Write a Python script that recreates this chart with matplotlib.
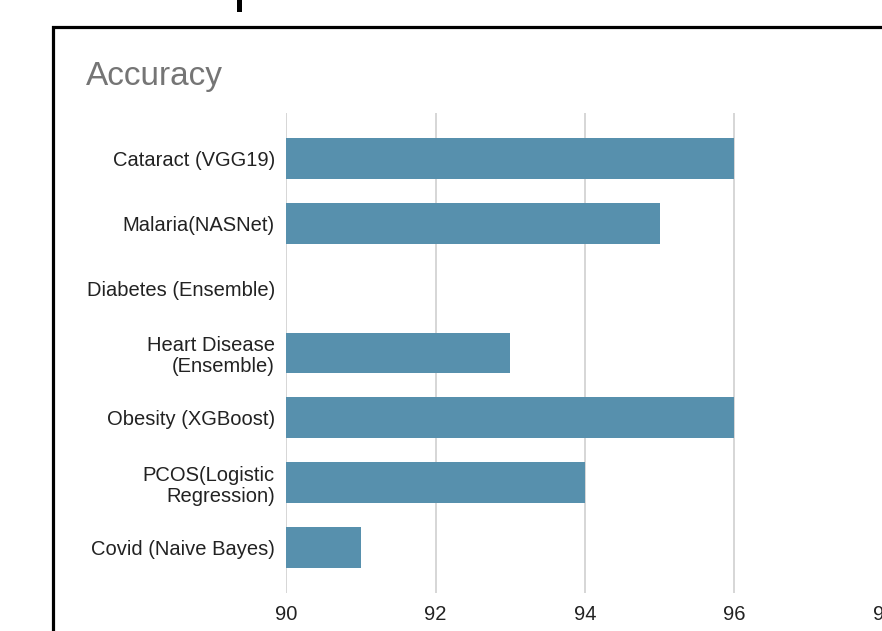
import matplotlib.pyplot as plt
from matplotlib.patches import Rectangle

models = [
    "Cataract (VGG19)",
    "Malaria(NASNet)",
    "Diabetes (Ensemble)",
    "Heart Disease\n(Ensemble)",
    "Obesity (XGBoost)",
    "PCOS(Logistic\nRegression)",
    "Covid (Naive Bayes)",
]
accuracy = [96, 95, 88, 93, 96, 94, 91]
ticks = [90, 92, 94, 96, 98]

plt.rcParams["font.family"] = ["Liberation Sans", "DejaVu Sans"]

W, H = 882, 631
fig = plt.figure(figsize=(W / 100, H / 100), dpi=100)

# frame around the chart card
fig.patches.append(Rectangle((53 / W, -0.1), 1.2, 1 - 27 / H + 0.1, transform=fig.transFigure,
                             fill=False, edgecolor="black", linewidth=2.3, zorder=0))
fig.patches.append(Rectangle((237 / W, 1 - 12 / H), 5 / W, 0.05, transform=fig.transFigure,
                             facecolor="black", edgecolor="none"))

ax = fig.add_axes([286 / W, 1 - 593 / H, (884 - 286) / W, (593 - 113) / H])
ypos = list(range(len(models)))
ax.barh(ypos, accuracy, height=0.63, color="#5790ad", zorder=2)
ax.set_xlim(90, 98)
ax.set_ylim(6.7, -0.7)
ax.set_xticks(ticks)
ax.set_yticks(ypos)
ax.set_yticklabels(models, linespacing=1.12)
ax.grid(axis="x", color="#cccccc", linewidth=1.1, zorder=0)
ax.tick_params(length=0, labelsize=14.5, colors="#222222")
ax.tick_params(axis="y", pad=8)
ax.tick_params(axis="x", pad=9)
for s in ax.spines.values():
    s.set_visible(False)

fig.text(86 / W, 1 - 76 / H, "Accuracy", fontsize=24, color="#757575", va="center", ha="left")

fig.savefig("out.png", dpi=100)
